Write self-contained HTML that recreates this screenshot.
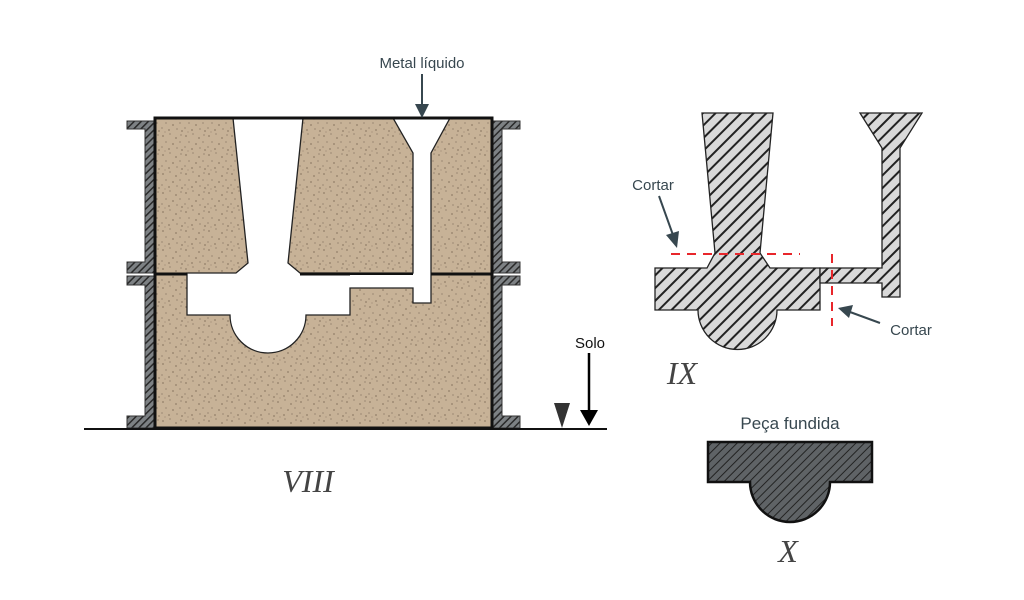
<!DOCTYPE html>
<html><head><meta charset="utf-8"><style>
html,body{margin:0;padding:0;background:#fff;width:1024px;height:600px;overflow:hidden}
text{font-family:"Liberation Sans",sans-serif}
</style></head><body>
<svg width="1024" height="600" viewBox="0 0 1024 600" xmlns="http://www.w3.org/2000/svg">
<defs>
<pattern id="sand" width="23" height="19" patternUnits="userSpaceOnUse">
<rect width="23" height="19" fill="#c7b297"/>
<g fill="#5a4a3a">
<circle cx="2" cy="3" r="0.6"/><circle cx="9" cy="1" r="0.5"/><circle cx="15" cy="5" r="0.6"/><circle cx="20" cy="2" r="0.5"/>
<circle cx="5" cy="9" r="0.5"/><circle cx="12" cy="11" r="0.6"/><circle cx="19" cy="9" r="0.5"/><circle cx="1" cy="14" r="0.5"/>
<circle cx="8" cy="16" r="0.6"/><circle cx="16" cy="15" r="0.5"/><circle cx="21" cy="17" r="0.6"/><circle cx="4" cy="18" r="0.4"/>
</g>
</pattern>
<pattern id="hatchL" width="9" height="9" patternUnits="userSpaceOnUse" patternTransform="rotate(45)">
<rect width="9" height="9" fill="#d9d9d9"/><rect width="2" height="9" fill="#222"/>
</pattern>
<pattern id="hatchD" width="6" height="6" patternUnits="userSpaceOnUse" patternTransform="rotate(45)">
<rect width="6" height="6" fill="#5f6366"/><rect width="1" height="6" fill="#222"/>
</pattern>
<pattern id="hatchF" width="5" height="5" patternUnits="userSpaceOnUse" patternTransform="rotate(45)">
<rect width="5" height="5" fill="#7d8184"/><rect width="1.5" height="5" fill="#2a2a2a"/>
</pattern>
</defs>

<g fill="url(#hatchF)" stroke="#333" stroke-width="1">
<path d="M127 121 H155 V273 H127 V262 H145 V129 H127 Z"/>
<path d="M127 276 H155 V428 H127 V416 H145 V285 H127 Z"/>
<path d="M520 121 H492 V273 H520 V262 H502 V129 H520 Z"/>
<path d="M520 276 H492 V428 H520 V416 H502 V285 H520 Z"/>
</g>

<rect x="155" y="118" width="337" height="310" fill="url(#sand)"/>
<g fill="#fff" stroke="#222" stroke-width="1.3">
<path d="M233 118 L248 263 L236 273 L187 273 L187 315 L230 315 A38 38 0 0 0 306 315 L350 315 L350 288 L413 288 L413 303 L431 303 L431 153 L450 118 L393 118 L413 153 L413 273 L300 273 L288 263 L303 118 Z"/>
</g>
<rect x="155" y="118" width="337" height="310" fill="none" stroke="#111" stroke-width="3"/>
<g stroke="#111" stroke-width="3">
<line x1="155" y1="274" x2="187" y2="274"/>
<line x1="300" y1="274" x2="350" y2="274"/>
<line x1="350" y1="274" x2="413" y2="274" stroke-width="2"/>
<line x1="431" y1="274" x2="492" y2="274"/>
</g>

<line x1="84" y1="429" x2="607" y2="429" stroke="#111" stroke-width="2"/>
<polygon points="554,403 570,403 562,428" fill="#333"/>
<line x1="589" y1="353" x2="589" y2="412" stroke="#000" stroke-width="2.5"/>
<polygon points="580,410 598,410 589,426" fill="#000"/>
<text x="590" y="348" font-size="15" text-anchor="middle" fill="#111">Solo</text>

<text x="422" y="68" font-size="15" text-anchor="middle" fill="#37474f">Metal líquido</text>
<line x1="422" y1="74" x2="422" y2="106" stroke="#37474f" stroke-width="2"/>
<polygon points="415,104 429,104 422,118" fill="#37474f"/>

<text x="308" y="492" font-size="32" font-style="italic" text-anchor="middle" fill="#444" style="font-family:'Liberation Serif',serif">VIII</text>

<path d="M702 113 L773 113 L760 253 L770 268 L820 268 L820 310 L777 310 A39 39 0 0 1 698 310 L655 310 L655 268 L707 268 L715 253 Z" fill="url(#hatchL)" stroke="#222" stroke-width="1.3"/>
<path d="M820 268 L882 268 L882 148 L860 113 L922 113 L900 148 L900 297 L882 297 L882 283 L820 283 Z" fill="url(#hatchL)" stroke="#222" stroke-width="1.3"/>
<line x1="671" y1="254" x2="800" y2="254" stroke="#e8262b" stroke-width="2" stroke-dasharray="9,7"/>
<line x1="832" y1="254" x2="832" y2="326" stroke="#e8262b" stroke-width="2" stroke-dasharray="9,7"/>
<text x="653" y="190" font-size="15" text-anchor="middle" fill="#37474f">Cortar</text>
<line x1="659" y1="196" x2="673" y2="235" stroke="#37474f" stroke-width="2"/>
<polygon points="666,235 679,231 677,248" fill="#37474f"/>
<text x="911" y="335" font-size="15" text-anchor="middle" fill="#37474f">Cortar</text>
<line x1="880" y1="323" x2="850" y2="312" stroke="#37474f" stroke-width="2"/>
<polygon points="853,305 849,318 838,308" fill="#37474f"/>
<text x="682" y="384" font-size="32" font-style="italic" text-anchor="middle" fill="#444" style="font-family:'Liberation Serif',serif">IX</text>

<text x="790" y="429" font-size="17" text-anchor="middle" fill="#37474f">Peça fundida</text>
<path d="M708 442 L872 442 L872 482 L830 482 A40 40 0 0 1 750 482 L708 482 Z" fill="url(#hatchD)" stroke="#111" stroke-width="2.5"/>
<text x="788" y="562" font-size="32" font-style="italic" text-anchor="middle" fill="#444" style="font-family:'Liberation Serif',serif">X</text>
</svg>
</body></html>
